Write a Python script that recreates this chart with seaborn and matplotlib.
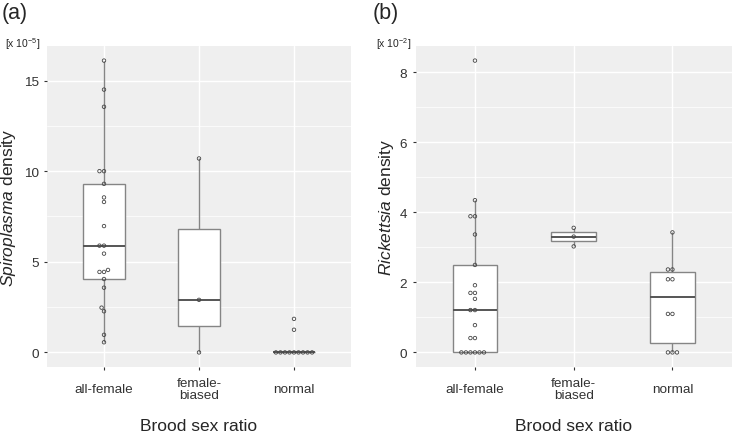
import pandas as pd
import matplotlib
matplotlib.use('Agg')
import matplotlib.pyplot as plt
import seaborn as sns
from matplotlib.ticker import MultipleLocator

sns.set_theme(style='darkgrid')
plt.rcParams['font.family'] = ['Liberation Sans', 'DejaVu Sans']
plt.rcParams['mathtext.fontset'] = 'custom'
plt.rcParams['mathtext.rm'] = 'Liberation Sans'
plt.rcParams['mathtext.it'] = 'Liberation Sans:italic'

# Categories
groups = ['all-female', 'female-biased', 'normal']
group_labels = ['all-female', 'female-\nbiased', 'normal']

# (a) Spiroplasma density [x 10^-5]
spiro_all_female = [16.1, 14.5, 13.55, 10.0, 10.0, 9.3, 8.55, 8.3, 6.97, 5.89, 5.89,
                    5.45, 4.55, 4.44, 4.44, 4.05, 3.57, 2.47, 2.27, 0.97, 0.56]
spiro_female_biased = [10.7, 2.9, 0.0]
spiro_normal = [1.85, 1.25, 0, 0, 0, 0, 0, 0, 0, 0, 0]

# (b) Rickettsia density [x 10^-2]
rick_all_female = [8.34, 4.35, 3.89, 3.89, 3.37, 2.5, 1.92, 1.70, 1.70, 1.53, 1.21,
                   1.21, 0.78, 0.41, 0.41, 0, 0, 0, 0, 0, 0]
rick_female_biased = [3.56, 3.31, 3.03]
rick_normal = [3.43, 2.37, 2.37, 2.09, 2.09, 1.10, 1.10, 0, 0, 0]


def long_form(values_by_group):
    rows = []
    for g, vals in zip(groups, values_by_group):
        for v in vals:
            rows.append({'group': g, 'density': v})
    return pd.DataFrame(rows)


df_spiro = long_form([spiro_all_female, spiro_female_biased, spiro_normal])
df_rick = long_form([rick_all_female, rick_female_biased, rick_normal])

fig = plt.figure(figsize=(7.33, 4.35), dpi=100)
ax_a = fig.add_axes([47 / 733, 1 - 368 / 435, 304 / 733, 321 / 435])
ax_b = fig.add_axes([415.7 / 733, 1 - 368 / 435, 316 / 733, 321 / 435])

panels = [
    (ax_a, df_spiro, r'$\mathit{Spiroplasma}$ density', 5, 2.5, r'[x 10$^{-5}$]', '(a)', -0.125, 5, 2),
    (ax_b, df_rick, r'$\mathit{Rickettsia}$ density', 2, 1, r'[x 10$^{-2}$]', '(b)', -0.091, 376, 373),
]

for ax, df, ylab, major, minor, scale_txt, tag, ylab_x, scale_px, tag_px in panels:
    ax.set_facecolor('#EFEFEF')
    sns.boxplot(data=df, x='group', y='density', order=groups, ax=ax,
                color='white', linecolor='#858585', linewidth=1.0, width=0.45,
                showcaps=False, showfliers=False, whis=1.5,
                medianprops={'color': '#555555', 'linewidth': 1.4})
    sns.swarmplot(data=df, x='group', y='density', order=groups, ax=ax,
                  marker='o', size=2.5, color='none', edgecolor='#444444',
                  linewidth=0.6, facecolor='none')
    ymax = df['density'].max()
    ax.set_ylim(-0.05 * ymax, 1.05 * ymax)
    ax.set_xlim(-0.6, 2.6)
    ax.yaxis.set_major_locator(MultipleLocator(major))
    ax.yaxis.set_minor_locator(MultipleLocator(minor))
    ax.grid(which='major', color='white', linewidth=1.0)
    ax.grid(which='minor', axis='y', color='white', linewidth=0.5)
    ax.set_axisbelow(True)
    for s in ax.spines.values():
        s.set_visible(False)
    ax.tick_params(axis='both', which='major', length=2.5, width=0.8, color='#333333',
                   labelsize=9.7, labelcolor='#333333', bottom=True, left=True)
    ax.tick_params(axis='both', which='minor', length=0)
    ax.tick_params(axis='x', pad=13)
    ax.set_xticks(range(len(groups)))
    ax.set_xticklabels(group_labels, va='center', linespacing=1.0)
    ax.set_xlabel('Brood sex ratio', fontsize=12.5, va='center')
    ax.xaxis.set_label_coords(0.5, -0.183)
    ax.set_ylabel(ylab, fontsize=12.5, va='center')
    ax.yaxis.set_label_coords(ylab_x, 0.5)
    fig.text(scale_px / 733, 1 - 44 / 435, scale_txt, fontsize=7.5, va='center', ha='left')
    fig.text(tag_px / 733, 1 - 14 / 435, tag, fontsize=15.5, va='center', ha='left')

fig.savefig('out.png', dpi=100)
